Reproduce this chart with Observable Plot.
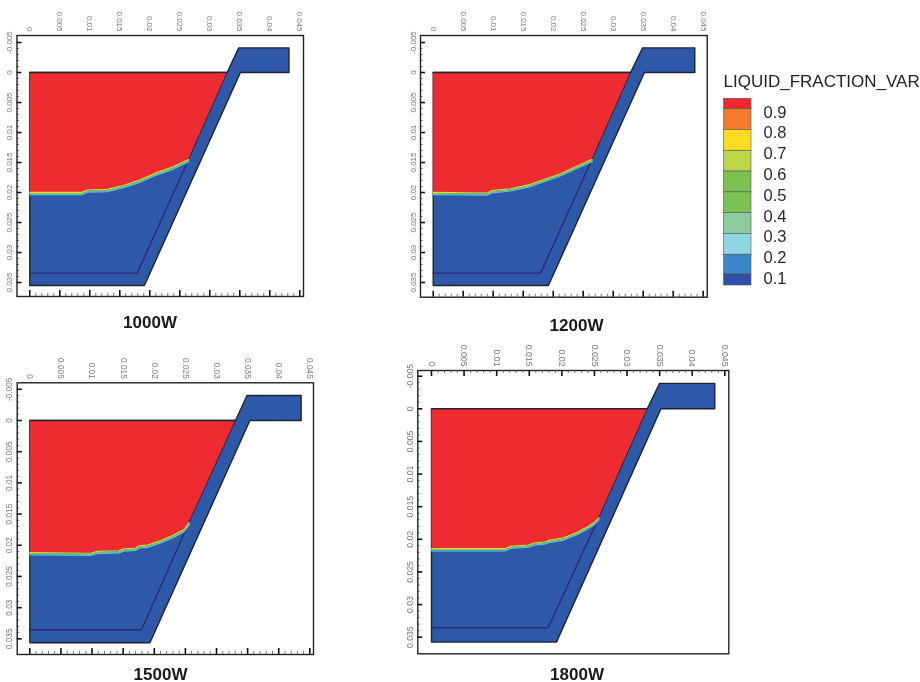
<!DOCTYPE html>
<html><head><meta charset="utf-8">
<script src="https://cdn.jsdelivr.net/npm/d3@7"></script>
<script src="https://cdn.jsdelivr.net/npm/@observablehq/plot@0.6"></script>
<style>
html,body{margin:0;padding:0;background:#fff;width:920px;height:682px;overflow:hidden;font-family:"Liberation Sans",Arial,sans-serif}
.p{position:absolute;filter:blur(.4px)}
.p svg{display:block;background:transparent}
.t{position:absolute;font-weight:bold;font-size:17px;line-height:13px;color:#1a1a1a;transform:translate(-50%,-50%);filter:blur(.25px)}
.lt{position:absolute;left:723.5px;top:73px;font-size:17px;line-height:18px;color:#222;white-space:nowrap;filter:blur(.25px)}
</style></head><body>
<div id="root"></div>
<script>
// Axis values (metres)
const xMajor = [0,0.005,0.01,0.015,0.02,0.025,0.03,0.035,0.04,0.045];
const yMajor = [-0.005,0,0.005,0.01,0.015,0.02,0.025,0.03,0.035];
const xMinor = [0.001,0.002,0.003,0.004,0.006,0.007,0.008,0.009,0.011,0.012,0.013,0.014,0.016,0.017,0.018,0.019,0.021,0.022,0.023,0.024,0.026,0.027,0.028,0.029,0.031,0.032,0.033,0.034,0.036,0.037,0.038,0.039,0.041,0.042,0.043,0.044];
const yMinor = [-0.004,-0.003,-0.002,-0.001,0.001,0.002,0.003,0.004,0.006,0.007,0.008,0.009,0.011,0.012,0.013,0.014,0.016,0.017,0.018,0.019,0.021,0.022,0.023,0.024,0.026,0.027,0.028,0.029,0.031,0.032,0.033,0.034];

// Melt front [x, y]
const front1000 = [[0,0.0199],[0.0087,0.0199],[0.0096,0.0195],[0.0129,0.0194],[0.0157,0.0187],[0.0182,0.0179],[0.0212,0.0166],[0.024,0.0156],[0.0265,0.0144]];
const front1200 = [[0,0.0199],[0.0090,0.0200],[0.0098,0.0196],[0.0129,0.0193],[0.0157,0.0187],[0.0184,0.0178],[0.0212,0.0168],[0.024,0.0155],[0.0265,0.0144]];
const front1500 = [[0,0.0211],[0.00975,0.0212],[0.0108,0.0209],[0.0143,0.0208],[0.0151,0.0205],[0.017,0.0204],[0.0175,0.02],[0.0189,0.0199],[0.021,0.0192],[0.0231,0.0183],[0.0248,0.0174],[0.0256,0.0163]];
const front1800 = [[0,0.02135],[0.01135,0.02135],[0.0121,0.021],[0.0149,0.0208],[0.0157,0.0205],[0.0175,0.0203],[0.018,0.0201],[0.0203,0.0197],[0.0223,0.0189],[0.0238,0.0181],[0.0249,0.0174],[0.0257,0.0166]];

// Outer outline of the part
const outer1000 = [[0,0],[0.0329,0],[0.0348,-0.0041],[0.0432,-0.0041],[0.0432,0],[0.0351,0],[0.0191,0.0355],[0,0.0355],[0,0]];
const outer1200 = [[0,0],[0.0329,0],[0.0349,-0.0041],[0.0436,-0.0041],[0.0436,0],[0.0352,0],[0.0192,0.0355],[0,0.0355],[0,0]];
const outer1500 = [[0,0],[0.03306,0],[0.0349,-0.004],[0.0436,-0.004],[0.0436,0],[0.03536,0],[0.0193,0.03563],[0,0.03563],[0,0]];
const outer1800 = [[0,0],[0.0331,0],[0.035,-0.0039],[0.04346,-0.0039],[0.04346,0],[0.0352,0],[0.01917,0.03576],[0,0.03576],[0,0]];

// Inner wall line
const inner1000 = [[0,0.03344],[0.0179,0.03344],[0.0265,0.0144],[0.0329,0]];
const inner1200 = [[0,0.03344],[0.0179,0.03344],[0.0265,0.0144],[0.0329,0]];
const inner1500 = [[0,0.03355],[0.01795,0.03355],[0.0256,0.0163],[0.03306,0]];
const inner1800 = [[0,0.03356],[0.0179,0.03356],[0.0257,0.0166],[0.0331,0]];

// Frame extents in data units and on the page
const xDomain1000 = [-0.00213,0.04562], yDomain1000 = [-0.00617,0.03733];
const xDomain1200 = [-0.00212,0.04567], yDomain1200 = [-0.00617,0.03745];
const xDomain1500 = [-0.00203,0.04559], yDomain1500 = [-0.00604,0.03751];
const xDomain1800 = [-0.00210,0.04561], yDomain1800 = [-0.00587,0.03755];

const panelTitles = ["1000W","1200W","1500W","1800W"];

// Legend
const legendEdges = [0.965,0.915,0.815,0.715,0.615,0.515,0.415,0.315,0.215,0.12,0.067];
const legendColors = ["#ee2730","#f47a2d","#fbdc22","#bcd64c","#7cc250","#7ac352","#8bcc9f","#8dd6e2","#3a86c8","#2e50a8"];
const legendLevels = [0.1,0.2,0.3,0.4,0.5,0.6,0.7,0.8,0.9];

const RED="#ee2b30", BLUE="#2e59a9", DARK="#1c2433", LINE="#2a2a72";
const fmt = d => d === 0 ? "0" : String(d);

function panel(o){
  const L=o.box[0],T=o.box[1],W=o.box[2],H=o.box[3];
  const fh=H-o.m[0]-o.m[2];
  const poly=o.outer;
  const redPoly=[[0,0],[o.inner[3][0],0],...o.front.slice().reverse()];
  const marks=[
    Plot.line(poly,{x:d=>d[0],y:d=>d[1],fill:BLUE,stroke:DARK,strokeWidth:1.4}),
    Plot.line(redPoly,{x:d=>d[0],y:d=>d[1],fill:RED,stroke:"none"}),
    Plot.line([[0,0],[o.inner[3][0],0]],{x:d=>d[0],y:d=>d[1],stroke:DARK,strokeWidth:1.5}),
    Plot.line(o.inner.slice(0,3),{x:d=>d[0],y:d=>d[1],stroke:LINE,strokeWidth:1.4}),
    Plot.line(o.inner.slice(2),{x:d=>d[0],y:d=>d[1],stroke:DARK,strokeWidth:.9}),
    Plot.line(o.front,{x:d=>d[0],y:d=>d[1],stroke:"#eadb2a",strokeWidth:1.2,dy:0.5}),
    Plot.line(o.front,{x:d=>d[0],y:d=>d[1],stroke:"#7cc652",strokeWidth:1.2,dy:1.6}),
    Plot.line(o.front,{x:d=>d[0],y:d=>d[1],stroke:"#5fc4d8",strokeWidth:1.2,dy:2.7}),
    Plot.tickY(yMajor,{y:d=>d,insetRight:o.fw-5,stroke:"#111",strokeWidth:1.6}),
    Plot.tickY(yMinor,{y:d=>d,insetRight:o.fw-2.5,stroke:"#555",strokeWidth:.8}),
    Plot.frame({stroke:"#222",strokeWidth:1.4}),
    Plot.axisX({anchor:"top",ticks:xMajor,tickSize:0,tickPadding:4,tickRotate:90,tickFormat:fmt,label:null,fontSize:o.fs,color:"#777"}),
    Plot.axisY({anchor:"left",ticks:yMajor,tickSize:0,tickPadding:5,tickRotate:-90,tickFormat:fmt,label:null,fontSize:o.fs,color:"#777"})
  ];
  if(o.topTicks){
    marks.push(Plot.tickX(xMajor,{x:d=>d,insetBottom:fh-6,stroke:"#111",strokeWidth:1.6}));
    marks.push(Plot.tickX(xMinor,{x:d=>d,insetBottom:fh-3,stroke:"#555",strokeWidth:.8}));
  } else {
    marks.push(Plot.tickX(xMajor,{x:d=>d,insetTop:fh-6,stroke:"#111",strokeWidth:1.6}));
    marks.push(Plot.tickX(xMinor,{x:d=>d,insetTop:fh-3,stroke:"#555",strokeWidth:.8}));
  }
  const svg=Plot.plot({
    width:W,height:H,
    marginTop:o.m[0],marginRight:o.m[1],marginBottom:o.m[2],marginLeft:o.m[3],
    x:{domain:o.xd},y:{domain:o.yd,reverse:true},
    style:{fontFamily:'"Liberation Sans",Arial,sans-serif',background:"transparent"},
    marks
  });
  const d=document.createElement("div");d.className="p";d.style.left=L+"px";d.style.top=T+"px";
  d.appendChild(svg);document.getElementById("root").appendChild(d);
  const t=document.createElement("div");t.className="t";t.textContent=o.title;t.style.left=o.tp[0]+"px";t.style.top=o.tp[1]+"px";
  document.getElementById("root").appendChild(t);
}
const mk=(title,outer,inner,front,xd,yd,frame,tp,topTicks,fs)=>panel({
  title,outer,inner,front,xd,yd,tp,topTicks,fs,
  box:[Math.floor(frame[0])-16,Math.floor(frame[1])-30,Math.ceil(frame[2]-frame[0])+22,Math.ceil(frame[3]-frame[1])+36],
  m:[frame[1]-(Math.floor(frame[1])-30),(Math.ceil(frame[2]-frame[0])+22)-(frame[2]-(Math.floor(frame[0])-16)),(Math.ceil(frame[3]-frame[1])+36)-(frame[3]-(Math.floor(frame[1])-30)),frame[0]-(Math.floor(frame[0])-16)],
  fw:frame[2]-frame[0]
});
mk(panelTitles[0],outer1000,inner1000,front1000,xDomain1000,yDomain1000,[16.5,35,303,296],[150,322],false,8);
mk(panelTitles[1],outer1200,inner1200,front1200,xDomain1200,yDomain1200,[420,35,706.7,296.7],[576.5,325],false,8);
mk(panelTitles[2],outer1500,inner1500,front1500,xDomain1500,yDomain1500,[16.7,382.3,313,654],[160.5,674],false,8.3);
mk(panelTitles[3],outer1800,inner1800,front1800,xDomain1800,yDomain1800,[417.3,370,728.3,653.3],[577,674],true,8.7);

// Legend
const legendBands=legendColors.map((c,i)=>({c,y1:legendEdges[i],y2:legendEdges[i+1]}));
const leg=Plot.plot({
  width:220,height:240,marginTop:38.3,marginBottom:15,marginLeft:23.5,marginRight:169,
  x:{domain:[0,1],axis:null},
  y:{domain:[legendEdges[legendEdges.length-1],legendEdges[0]]},
  style:{fontFamily:'"Liberation Sans",Arial,sans-serif',background:"transparent"},
  marks:[
    Plot.rect(legendBands,{x1:()=>0,x2:()=>1,y1:"y1",y2:"y2",fill:"c",stroke:"#555",strokeWidth:.6}),
    Plot.axisY({anchor:"right",ticks:legendLevels,tickSize:0,tickPadding:12,tickFormat:d=>d.toFixed(1),label:null,fontSize:16.5,color:"#2a2a2a"})
  ]
});
const ld=document.createElement("div");ld.className="p";ld.style.left="700px";ld.style.top="60px";ld.appendChild(leg);
document.getElementById("root").appendChild(ld);
const lt=document.createElement("div");lt.className="lt";lt.textContent="LIQUID_FRACTION_VAR";
document.getElementById("root").appendChild(lt);
</script>
</body></html>
